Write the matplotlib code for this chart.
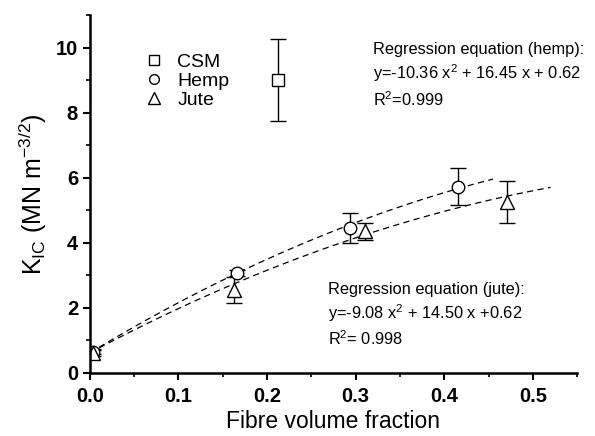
import numpy as np
import matplotlib
matplotlib.use("Agg")
import matplotlib.pyplot as plt
from matplotlib.ticker import MultipleLocator

plt.rcParams['font.family'] = ['Liberation Sans', 'DejaVu Sans']
plt.rcParams['mathtext.fontset'] = 'custom'
plt.rcParams['mathtext.rm'] = 'Liberation Sans'
plt.rcParams['mathtext.it'] = 'Liberation Sans:italic'

# data
csm_x = [0.212]
csm_y = [9.0]
csm_err = [1.27]

hemp_x = [0.004, 0.166, 0.294, 0.416]
hemp_y = [0.66, 3.08, 4.46, 5.72]
hemp_err = [0.08, 0.1, 0.46, 0.57]

jute_x = [0.004, 0.163, 0.311, 0.471]
jute_y = [0.62, 2.55, 4.35, 5.25]
jute_err = [0.1, 0.4, 0.25, 0.65]

# regression coefficients (a, b, c) for y = a x^2 + b x + c, and fit range
hemp_fit = [-10.36, 16.45, 0.62]
hemp_fit_range = [0.0, 0.455]
jute_fit = [-9.08, 14.50, 0.62]
jute_fit_range = [0.0, 0.52]

fig = plt.figure(figsize=(5.95, 4.36), dpi=100)
ax = fig.add_axes([0.151, 0.1445, 0.819, 0.821])

for coef, rng in [(hemp_fit, hemp_fit_range), (jute_fit, jute_fit_range)]:
    xs = np.linspace(rng[0], rng[1], 100)
    ax.plot(xs, np.polyval(coef, xs), ls=(0, (5, 3.5)), color='black', lw=0.9)

ekw = dict(ls='none', color='black', mfc='white', mec='black', mew=1.0,
           ecolor='black', elinewidth=1.0, capsize=5.5, capthick=1.0)
ax.errorbar(csm_x, csm_y, yerr=csm_err, marker='s', ms=8.5, **ekw)
ax.errorbar(hemp_x, hemp_y, yerr=hemp_err, marker='o', ms=9, **ekw)
ax.errorbar(jute_x, jute_y, yerr=jute_err, marker='^', ms=10, **ekw)

# legend handles (markers only)
h1, = ax.plot([], [], 's', mfc='white', mec='black', ms=6.5, mew=1.0)
h2, = ax.plot([], [], 'o', mfc='white', mec='black', ms=7, mew=1.0)
h3, = ax.plot([], [], '^', mfc='white', mec='black', ms=8, mew=1.0)
ax.legend([h1, h2, h3], ['CSM', 'Hemp', 'Jute'], loc='upper left',
          bbox_to_anchor=(0.072, 0.942), frameon=False, fontsize=14,
          handletextpad=0.6, labelspacing=0.08, handlelength=1.2)

ax.text(0.32, 9.15, 'Regression equation (hemp):\n'
        'y=-10.36 x$^2$ + 16.45 x + 0.62\n'
        'R$^2$=0.999', fontsize=11.8, va='center', ha='left', linespacing=1.35)
ax.text(0.269, 1.78, 'Regression equation (jute):\n'
        'y=-9.08 x$^2$ + 14.50 x +0.62\n'
        'R$^2$= 0.998', fontsize=11.8, va='center', ha='left', linespacing=1.35)

ax.set_xlim(0, 0.55)
ax.set_ylim(0, 11)
ax.xaxis.set_major_locator(MultipleLocator(0.1))
ax.xaxis.set_minor_locator(MultipleLocator(0.05))
ax.yaxis.set_major_locator(MultipleLocator(2))
ax.yaxis.set_minor_locator(MultipleLocator(1))
ax.spines['top'].set_visible(False)
ax.spines['right'].set_visible(False)
for s in ['left', 'bottom']:
    ax.spines[s].set_linewidth(1.8)
ax.tick_params(which='major', direction='out', length=5, width=1.5, labelsize=14.5)
ax.tick_params(axis='x', which='major', pad=5)
ax.tick_params(which='minor', direction='out', length=3, width=1.2)
ax.set_xticks(np.arange(0, 0.51, 0.1))
ax.set_xticklabels(['0.0', '0.1', '0.2', '0.3', '0.4', '0.5'], fontweight='bold')
ax.set_yticks([0, 2, 4, 6, 8, 10])
ax.set_yticklabels(['0', '2', '4', '6', '8', '10'], fontweight='bold')

ax.set_xlabel('Fibre volume fraction', fontsize=16.5, labelpad=3)
ax.set_ylabel('K$_\\mathrm{IC}$ (MN m$^{-3/2}$)', fontsize=18, labelpad=5)

fig.savefig('out.png', dpi=100)
